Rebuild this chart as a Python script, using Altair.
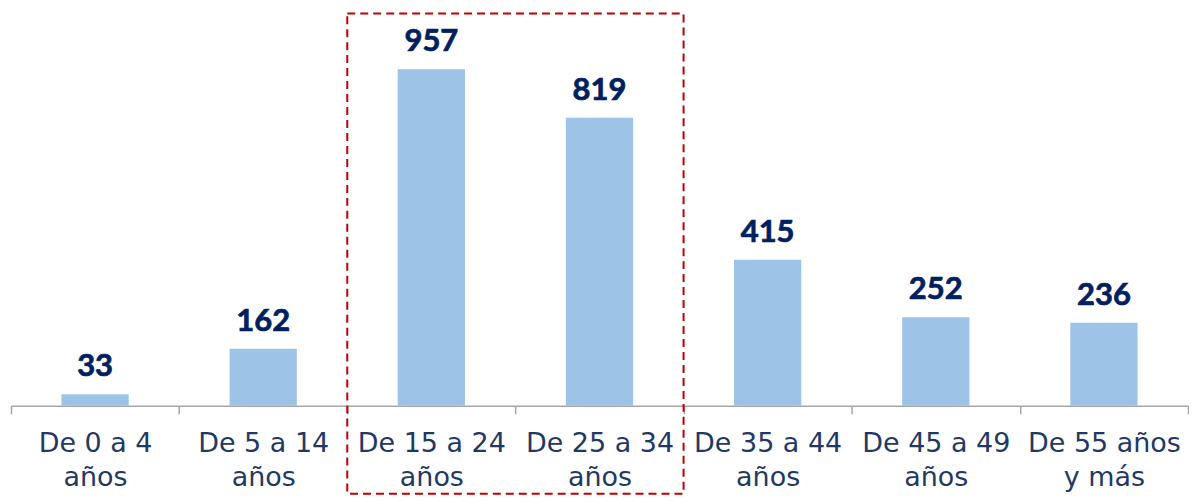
import altair as alt
import pandas as pd

line1 = ["De 0 a 4", "De 5 a 14", "De 15 a 24", "De 25 a 34", "De 35 a 44", "De 45 a 49", "De 55 años"]
line2 = ["años", "años", "años", "años", "años", "años", "y más"]
values = [33, 162, 957, 819, 415, 252, 236]

# highlighted group (dashed box)
box_from = "De 15 a 24\naños"
box_to = "De 25 a 34\naños"
box_top = 1116
box_bottom = -250

cats = [a + "\n" + b for a, b in zip(line1, line2)]
df = pd.DataFrame({"cat": cats, "value": values})
box_df = pd.DataFrame({"c1": [box_from], "c2": [box_to], "top": [box_top], "bottom": [box_bottom]})

xscale = alt.Scale(domain=cats, paddingInner=0, paddingOuter=0)
yscale = alt.Scale(domain=[0, 1116], nice=False)

navy = "#002060"

bars = alt.Chart(df).mark_bar(color="#9DC3E6", width=alt.RelativeBandSize(0.4)).encode(
    x=alt.X("cat:N", scale=xscale, sort=None, title=None,
            axis=alt.Axis(labelExpr="split(datum.label, '\\n')", labelAngle=0,
                          labelFont="DejaVu Sans", labelFontSize=27, labelColor="#1F3864",
                          labelLineHeight=34, labelPadding=17, tickBand="extent",
                          tickSize=8, tickColor="#A6A6A6", domainColor="#A6A6A6",
                          domainWidth=1.5, tickWidth=1.5, labelLimit=300)),
    y=alt.Y("value:Q", scale=yscale, axis=None),
)

text = alt.Chart(df).mark_text(baseline="alphabetic", dy=-18, font="Lato", fontWeight="bold",
                               fontSize=31, color=navy, stroke=navy, strokeWidth=0.7).encode(
    x=alt.X("cat:N", scale=xscale, sort=None),
    y=alt.Y("value:Q", scale=yscale),
    text="value:Q",
)

box = alt.Chart(box_df).mark_rect(fill=None, fillOpacity=0, stroke="#C00000", strokeWidth=2,
                                  strokeDash=[8, 5], clip=False).encode(
    x=alt.X("c1:N", scale=xscale, bandPosition=0),
    x2=alt.X2("c2", bandPosition=1),
    y=alt.Y("top:Q", scale=yscale),
    y2="bottom:Q",
)

chart = alt.layer(bars, text, box).properties(
    width=1179, height=393,
    padding={"left": 2, "top": 4, "right": 0, "bottom": 0},
).configure_view(strokeWidth=0)

chart.save("out.html", embed_options={"renderer": "svg", "actions": False})
